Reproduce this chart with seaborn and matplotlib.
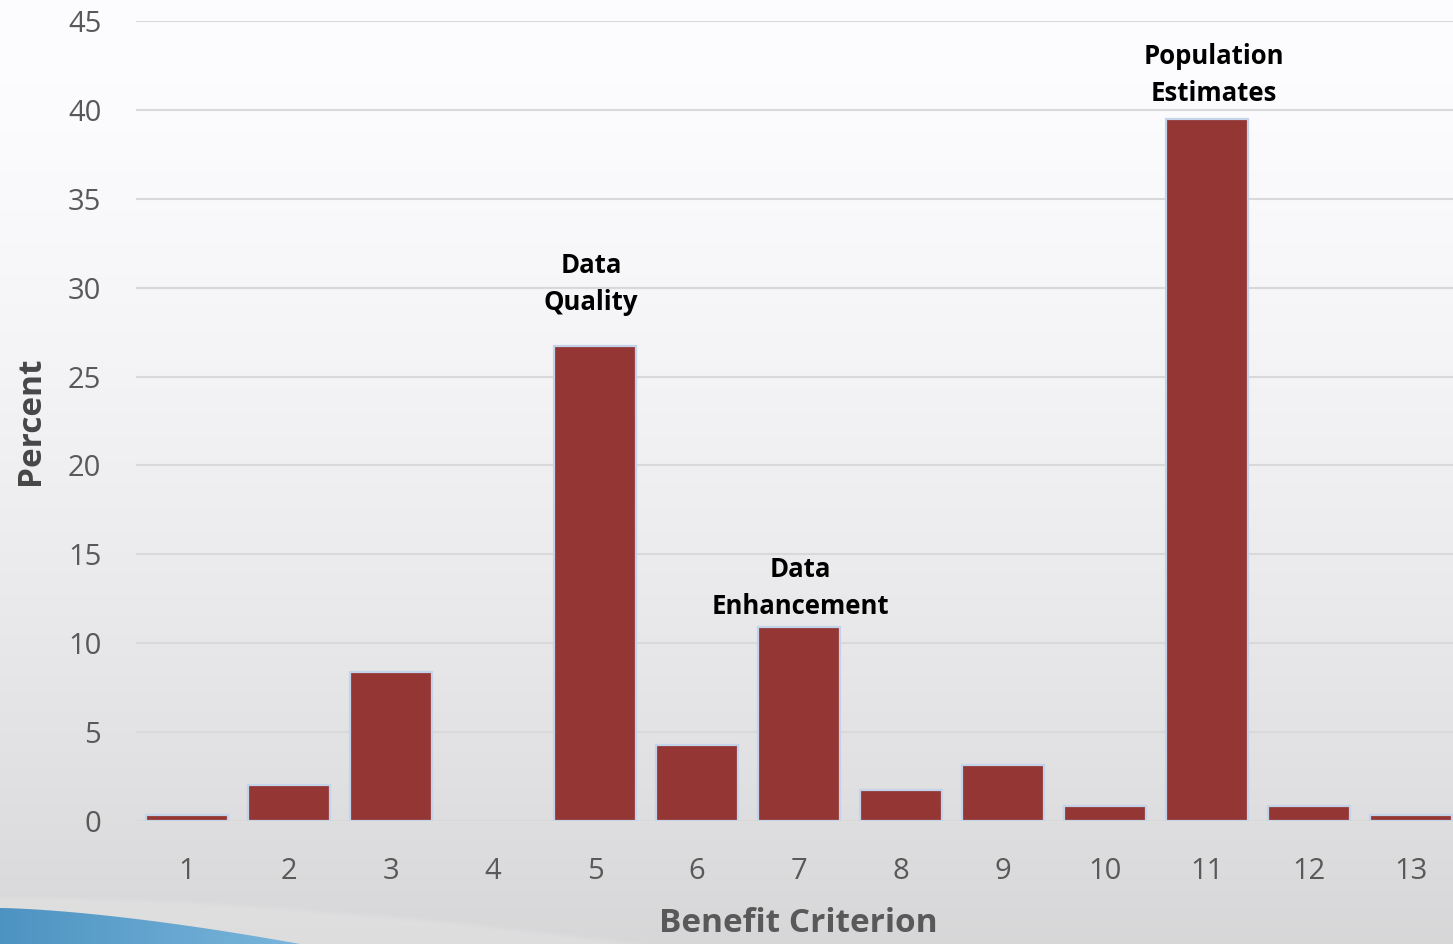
import numpy as np
import pandas as pd
import matplotlib
matplotlib.use("Agg")
import matplotlib.pyplot as plt
from matplotlib.patches import Polygon
import seaborn as sns

# Share of responses by benefit criterion
criteria = ["1", "2", "3", "4", "5", "6", "7", "8", "9", "10", "11", "12", "13"]
percent = [0.35, 2.0, 8.4, 0.0, 26.7, 4.3, 10.9, 1.75, 3.15, 0.85, 39.5, 0.85, 0.35]

# Labels placed above selected bars
callout_idx = [4, 6, 10]
callout_text = ["Data\nQuality", "Data\nEnhancement", "Population\nEstimates"]

yticks = [0, 5, 10, 15, 20, 25, 30, 35, 40, 45]

sns.set_theme(style="white")
plt.rcParams["font.family"] = ["Open Sans", "DejaVu Sans"]

W, H = 1453, 944
fig = plt.figure(figsize=(W / 100, H / 100), dpi=100)

# Slide-style backdrop: vertical grey gradient with a blue sweep at lower left
bg = fig.add_axes([0, 0, 1, 1], zorder=0)
bg.set_axis_off()
t = np.linspace(0, 1, 400)[:, None]
shade = 1.0 - 0.15 * t ** 1.5
grad = np.dstack([shade * 0.992, shade * 0.992, shade]) * np.ones((1, 10, 1))
bg.imshow(grad, extent=[0, W, H, 0], aspect="auto")

# faint light streak above the sweep
for k, a in enumerate([0.06, 0.06, 0.06]):
    bx = np.linspace(0, 650, 80)
    btop = 896 + 2 * k + 48 * (bx / 650) ** 1.8
    band = np.vstack([np.column_stack([bx, btop]), [[650, 944], [0, 944]]])
    bg.add_patch(Polygon(band, closed=True, facecolor="white", alpha=a, lw=0))

sweep_x = np.linspace(0, 300, 60)
sweep_top = 908 + 36 * (sweep_x / 300) ** 1.5
sweep = np.vstack([np.column_stack([sweep_x, sweep_top]), [[300, 944], [0, 944]]])
poly = Polygon(sweep, closed=True, facecolor="none", lw=0)
bg.add_patch(poly)
u = np.linspace(0, 1, 300)[None, :]
blue0 = np.array([0.17, 0.50, 0.72])
blue1 = np.array([0.38, 0.66, 0.84])
blue_img = (blue0[None, None, :] * (1 - u[..., None]) + blue1[None, None, :] * u[..., None])
blue_img = np.repeat(blue_img, 20, axis=0)
im = bg.imshow(blue_img, extent=[0, 300, 944, 905], aspect="auto")
im.set_clip_path(poly)
bg.set_xlim(0, W)
bg.set_ylim(H, 0)

ax = fig.add_axes([136 / W, 123 / H, 1326 / W, 800 / H], zorder=1)
ax.patch.set_alpha(0)

df = pd.DataFrame({"Benefit Criterion": criteria, "Percent": percent})
sns.barplot(data=df, x="Benefit Criterion", y="Percent", ax=ax,
            color="#943634", saturation=1, width=0.8,
            edgecolor="#c3d4ea", linewidth=1.6, zorder=3)
# an empty category leaves no visible outline
for patch, v in zip(ax.patches, percent):
    if v == 0:
        patch.set_edgecolor("none")

ax.set_ylim(0, 45)
ax.set_yticks(yticks)
ax.set_xlim(-0.5, len(criteria) - 0.5)
ax.grid(axis="y", color="#d9d9d9", linewidth=1.5, zorder=0)
ax.set_axisbelow(True)
for s in ax.spines.values():
    s.set_visible(False)

ax.tick_params(axis="y", length=0, pad=25, labelsize=21, labelcolor="#595959")
ax.tick_params(axis="x", length=0, pad=26, labelsize=21, labelcolor="#595959")

ax.set_ylabel("Percent", fontsize=24, fontweight="bold", color="#474747")
ax.yaxis.set_label_coords(-(136 - 47) / 1326, 0.5)
ax.set_xlabel("Benefit Criterion", fontsize=24, fontweight="bold", color="#595959")
ax.xaxis.set_label_coords((798 - 136) / 1326, -86 / 800)

callout_dx = [-0.04, 0.01, 0.07]
callout_dy = [3.5, 2.2, 2.45]
for i, txt, dx, dy in zip(callout_idx, callout_text, callout_dx, callout_dy):
    ax.text(i + dx, percent[i] + dy, txt, ha="center", va="center",
            fontsize=18.5, fontweight="bold", color="black", linespacing=1.45)

fig.savefig("out.png", dpi=100)
